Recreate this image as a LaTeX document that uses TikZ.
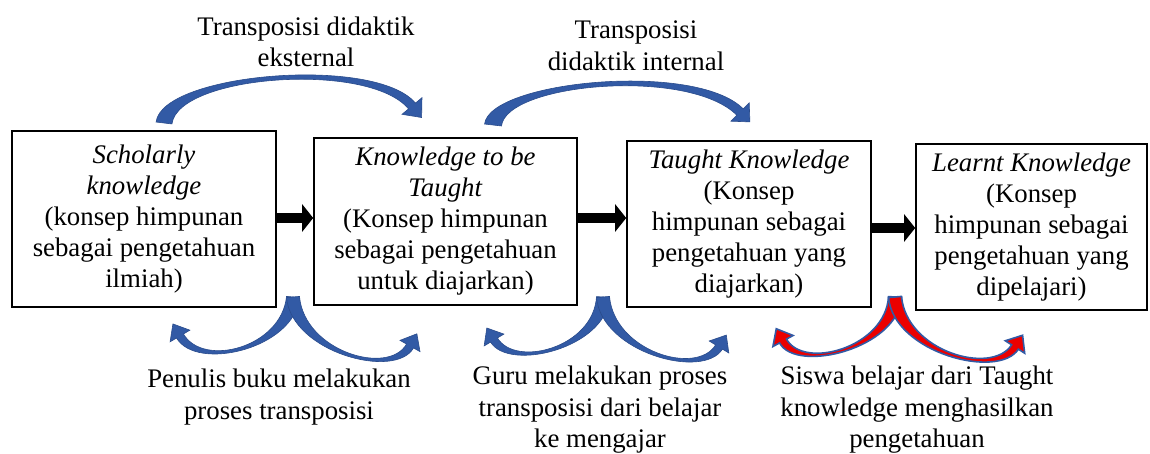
\documentclass[tikz,border=0pt]{standalone}
\usepackage{fontspec}
\setmainfont{Liberation Serif}
\usetikzlibrary{calc,arrows.meta}
\definecolor{arrowblue}{RGB}{50,90,165}
\definecolor{arrowred}{RGB}{235,0,0}
% tapered curved arrow: start, control1, control2, end, half-width start, half-width end, head half-width, head length, style
\newcommand\taparrow[9]{%
  \coordinate (tA) at (#1); \coordinate (tB) at (#2);
  \coordinate (tC) at (#3); \coordinate (tD) at (#4);
  \coordinate (tA1) at ($(tA)!#5!90:(tB)$);
  \coordinate (tA2) at ($(tA)!#5!-90:(tB)$);
  \coordinate (tD1) at ($(tD)!#6!-90:(tC)$);
  \coordinate (tD2) at ($(tD)!#6!90:(tC)$);
  \coordinate (tH1) at ($(tD)!#7!-90:(tC)$);
  \coordinate (tH2) at ($(tD)!#7!90:(tC)$);
  \coordinate (tT) at ($(tD)!-#8!(tC)$);
  \filldraw[#9] (tA1) .. controls ($(tB)+(tA1)-(tA)$) and ($(tC)+(tD1)-(tD)$) .. (tD1)
     -- (tH1) -- (tT) -- (tH2) -- (tD2)
     .. controls ($(tC)+(tD2)-(tD)$) and ($(tB)+(tA2)-(tA)$) .. (tA2) -- cycle;
}
\begin{document}
\begin{tikzpicture}[x=1pt,y=-1pt,
  box/.style={draw,line width=1.6pt,align=center,inner sep=0pt,
    font=\fontsize{26.8}{31}\selectfont},
  lbl/.style={align=center,inner sep=0pt,font=\fontsize{26.8}{31.5}\selectfont},
  blockarrow/.style={line width=10pt,-{Triangle[length=11pt,width=27pt]}},
  bluearrow/.style={fill=arrowblue,draw=arrowblue!85!black,line width=0.6pt},
  redarrow/.style={fill=arrowred,draw=arrowblue,line width=1.6pt}]
\useasboundingbox (0,0) rectangle (1150,454);

% boxes
\node[box,minimum width=264pt,minimum height=176pt] (b1) at (144,219)
  {\textit{Scholarly}\\\textit{knowledge}\\(konsep himpunan\\sebagai pengetahuan\\ilmiah)};
\node[box,minimum width=263pt,minimum height=167pt] (b2) at (445.5,221.5)
  {\textit{Knowledge to be}\\\textit{Taught}\\(Konsep himpunan\\sebagai pengetahuan\\untuk diajarkan)};
\node[box,minimum width=244pt,minimum height=166pt] (b3) at (749,224)
  {\textit{Taught Knowledge}\\(Konsep\\himpunan sebagai\\pengetahuan yang\\diajarkan)};
\node[box,minimum width=231pt,minimum height=166pt] (b4) at (1031.5,227)
  {\textit{Learnt Knowledge}\\(Konsep\\himpunan sebagai\\pengetahuan yang\\dipelajari)};

% block arrows between boxes
\draw[blockarrow] (b1.east |- 0,218) -- (b2.west |- 0,218);
\draw[blockarrow] (b2.east |- 0,218) -- (b3.west |- 0,218);
\draw[blockarrow] (b3.east |- 0,228) -- (b4.west |- 0,228);

% top curved arrows
\taparrow{164,123}{170,74}{372,58}{412,106}{8pt}{4.5pt}{13pt}{15pt}{bluearrow}
\taparrow{493,125}{498,82}{692,64}{740,112}{8.5pt}{4.5pt}{13pt}{14pt}{bluearrow}

% bottom curved arrows
\taparrow{293,297}{288,348}{200,370}{180,336}{6.5pt}{4pt}{11.5pt}{14pt}{bluearrow}
\taparrow{293,297}{298,352}{392,378}{410,346}{6.5pt}{4pt}{11.5pt}{14pt}{bluearrow}
\taparrow{603,297}{600,348}{512,370}{494,340}{6.5pt}{4pt}{11.5pt}{14pt}{bluearrow}
\taparrow{603,297}{608,352}{700,378}{719,347}{6.5pt}{4pt}{11.5pt}{14pt}{bluearrow}
\taparrow{895,297}{892,348}{800,372}{783,341}{6.5pt}{4pt}{11.5pt}{14pt}{redarrow}
\taparrow{895,297}{900,352}{995,378}{1015,347}{6.5pt}{4pt}{11.5pt}{14pt}{redarrow}

% labels
\node[lbl] (l1) at (306,42) {Transposisi didaktik\\eksternal};
\node[lbl] (l2) at (636,46) {Transposisi\\didaktik internal};
\node[lbl] (l3) at (279,397) {Penulis buku melakukan\\proses transposisi};
\node[lbl] (l4) at (600,410) {Guru melakukan proses\\transposisi dari belajar\\ke mengajar};
\node[lbl] (l5) at (917,410) {Siswa belajar dari Taught\\knowledge menghasilkan\\pengetahuan};
\end{tikzpicture}
\end{document}
